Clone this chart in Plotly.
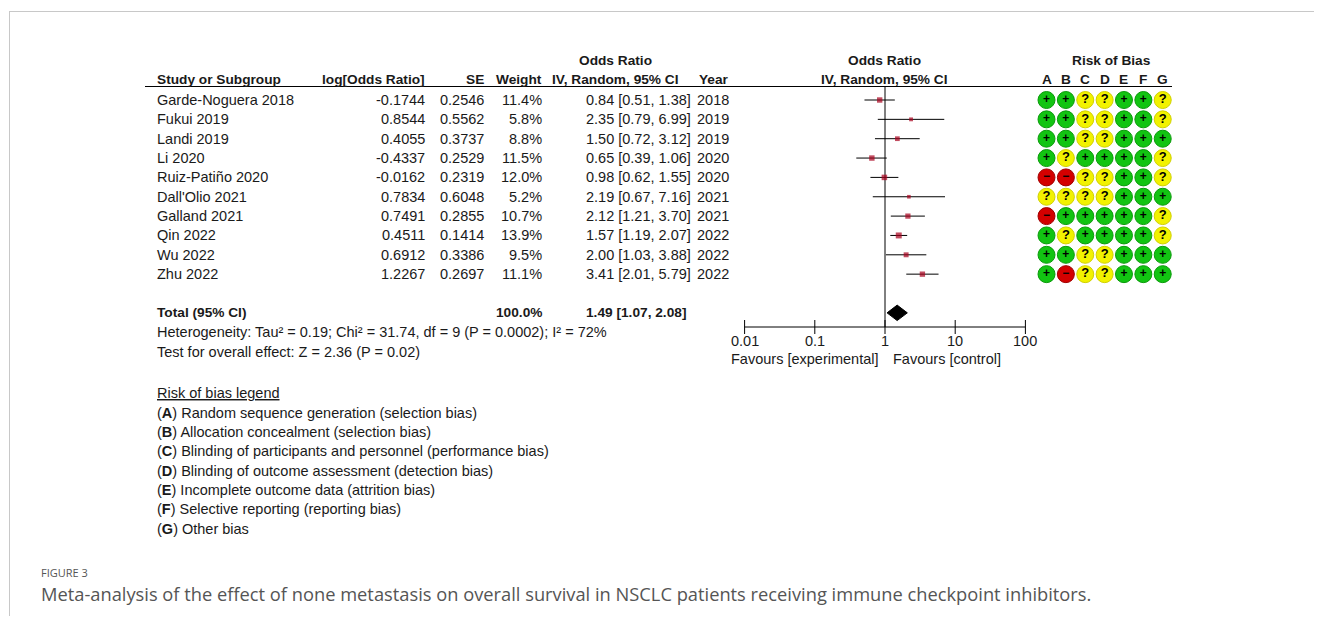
import math
import plotly.graph_objects as go

# page body has an 8px margin: reference pixel (x, y) -> figure pixel (x-8, y-8)
OFF = 8
FW, FH = 1314, 608

# ---------------- data ----------------
studies = ["Garde-Noguera 2018", "Fukui 2019", "Landi 2019", "Li 2020", "Ruiz-Patiño 2020",
           "Dall'Olio 2021", "Galland 2021", "Qin 2022", "Wu 2022", "Zhu 2022"]
log_or = ["-0.1744", "0.8544", "0.4055", "-0.4337", "-0.0162",
          "0.7834", "0.7491", "0.4511", "0.6912", "1.2267"]
se = ["0.2546", "0.5562", "0.3737", "0.2529", "0.2319",
      "0.6048", "0.2855", "0.1414", "0.3386", "0.2697"]
weight = [11.4, 5.8, 8.8, 11.5, 12.0, 5.2, 10.7, 13.9, 9.5, 11.1]
or_est = [0.84, 2.35, 1.50, 0.65, 0.98, 2.19, 2.12, 1.57, 2.00, 3.41]
ci_low = [0.51, 0.79, 0.72, 0.39, 0.62, 0.67, 1.21, 1.19, 1.03, 2.01]
ci_high = [1.38, 6.99, 3.12, 1.06, 1.55, 7.16, 3.70, 2.07, 3.88, 5.79]
years = [2018, 2019, 2019, 2020, 2020, 2021, 2021, 2022, 2022, 2022]

total_or = 1.49
total_low = 1.07
total_high = 2.08
total_weight = 100.0

rob_domains = ["A", "B", "C", "D", "E", "F", "G"]
rob = ["++??++?", "++??++?", "++??+++", "+?++++?", "--??++?",
       "????+++", "-+++++?", "+?++++?", "++??+++", "+-??+++"]

tick_vals = [0.01, 0.1, 1, 10, 100]
tick_labels = ["0.01", "0.1", "1", "10", "100"]

legend_items = [("A", "Random sequence generation (selection bias)"),
                ("B", "Allocation concealment (selection bias)"),
                ("C", "Blinding of participants and personnel (performance bias)"),
                ("D", "Blinding of outcome assessment (detection bias)"),
                ("E", "Incomplete outcome data (attrition bias)"),
                ("F", "Selective reporting (reporting bias)"),
                ("G", "Other bias")]

heterogeneity = "Heterogeneity: Tau² = 0.19; Chi² = 31.74, df = 9 (P = 0.0002); I² = 72%"
overall = "Test for overall effect: Z = 2.36 (P = 0.02)"
caption_label = "FIGURE 3"
caption = ("Meta-analysis of the effect of none metastasis on overall survival in NSCLC "
           "patients receiving immune checkpoint inhibitors.")

# ---------------- layout geometry (reference-pixel units) ----------------
ROW0_PX, PITCH = 100.0, 19.35          # row -> pixel mapping
ONE_PX, DEC_PX = 885.0, 70.2           # forest log axis
COL0_PX, COL_PITCH = 1046.5, 19.37     # risk-of-bias columns

def row_of(py):
    return (py - ROW0_PX) / PITCH

def px(x):
    return (x - OFF) / FW

def py_paper(y):
    return 1 - (y - OFF) / FH

FONT = "Liberation Sans, Arial, sans-serif"
TXT = "#1a1a1a"
REG = 14.5
BLD = 13.7

fig = go.Figure()

# ---- forest plot: CI lines ----
cx, cy = [], []
for i in range(len(studies)):
    cx += [ci_low[i], ci_high[i], None]
    cy += [i, i, None]
fig.add_trace(go.Scatter(x=cx, y=cy, mode="lines", line=dict(color="black", width=1),
                         hoverinfo="skip"))

# vertical line of no effect
axis_row = row_of(327)
fig.add_trace(go.Scatter(x=[1, 1], y=[row_of(87), axis_row], mode="lines",
                         line=dict(color="black", width=1), hoverinfo="skip"))

# squares
fig.add_trace(go.Scatter(x=or_est, y=list(range(len(studies))), mode="markers",
                         marker=dict(symbol="square", color="#a8001c",
                                     size=[1.6 * w ** 0.5 for w in weight],
                                     line=dict(width=0)),
                         hoverinfo="skip"))

# diamond
trow = 11
fig.add_trace(go.Scatter(x=[total_low, total_or, total_high, total_or, total_low],
                         y=[trow, trow - 0.4, trow, trow + 0.4, trow],
                         mode="lines", fill="toself", fillcolor="black",
                         line=dict(color="black", width=1), hoverinfo="skip"))

# axis line + ticks
fig.add_trace(go.Scatter(x=[tick_vals[0], tick_vals[-1]], y=[axis_row, axis_row], mode="lines",
                         line=dict(color="black", width=1), hoverinfo="skip"))
fig.add_trace(go.Scatter(x=tick_vals, y=[axis_row] * len(tick_vals), mode="markers",
                         marker=dict(symbol="line-ns", size=10,
                                     line=dict(color="black", width=1)),
                         hoverinfo="skip"))

# ---- risk of bias dots ----
styles = {
    "+": ("#12c412", "#0a9a0a", "+", 12),
    "?": ("#f2f200", "#d0d000", "?", 13),
    "-": ("#d40000", "#a00000", "−", 12),
}
for key, (fill, edge, ch, fs) in styles.items():
    xs, ys = [], []
    for i, r in enumerate(rob):
        for j, c in enumerate(r):
            if c == key:
                xs.append(j)
                ys.append(i)
    fig.add_trace(go.Scatter(x=xs, y=ys, xaxis="x2", yaxis="y", mode="markers+text",
                             text=["<b>%s</b>" % ch] * len(xs), textposition="middle center",
                             textfont=dict(family=FONT, size=fs, color="black"),
                             marker=dict(symbol="circle", size=17, color=fill,
                                         line=dict(color=edge, width=1)),
                             hoverinfo="skip"))

# ---------------- annotations ----------------
ann = []

def text(t, x, row, anchor="left", size=REG, bold=False, xref="paper", color=TXT, family=FONT):
    if xref == "paper":
        xv = px(x)
    elif xref == "x":
        xv = math.log10(x)
    else:
        xv = x
    ann.append(dict(text=("<b>%s</b>" % t) if bold else t,
                    x=xv, xref=xref,
                    y=row, yref="y", xanchor=anchor, yanchor="middle",
                    showarrow=False, font=dict(family=family, size=size, color=color)))

# headers
hr = row_of(79.5)
hr2 = row_of(60.5)
text("Study or Subgroup", 155, hr, bold=True, size=BLD)
text("log[Odds Ratio]", 427, hr, "right", bold=True, size=BLD)
text("SE", 486, hr, "right", bold=True, size=BLD)
text("Weight", 544, hr, "right", bold=True, size=BLD)
text("Odds Ratio", 615, hr2, "center", bold=True, size=BLD)
text("IV, Random, 95% CI", 615, hr, "center", bold=True, size=BLD)
text("Year", 731, hr, "right", bold=True, size=BLD)
text("Odds Ratio", 884, hr2, "center", bold=True, size=BLD)
text("IV, Random, 95% CI", 884, hr, "center", bold=True, size=BLD)
text("Risk of Bias", 1111, hr2, "center", bold=True, size=BLD)
for j, d in enumerate(rob_domains):
    text(d, j, hr, "center", bold=True, size=BLD, xref="x2")

# rows
for i, s in enumerate(studies):
    text(s, 155, i, "left")
    text(log_or[i], 427, i, "right")
    text(se[i], 486, i, "right")
    text("%.1f%%" % weight[i], 544, i, "right")
    text("%.2f [%.2f, %.2f]" % (or_est[i], ci_low[i], ci_high[i]), 693, i, "right")
    text(str(years[i]), 731, i, "right")

# total
text("Total (95% CI)", 155, trow, bold=True, size=BLD)
text("%.1f%%" % total_weight, 544, trow, "right", bold=True, size=BLD)
text("%.2f [%.2f, %.2f]" % (total_or, total_low, total_high), 688, trow, "right",
     bold=True, size=BLD)
text(heterogeneity, 155, row_of(332), "left")
text(overall, 155, row_of(351.5), "left")

# forest tick labels and favours
for v, l in zip(tick_vals, tick_labels):
    text(l, v, row_of(341), "center", xref="x")
text("Favours [experimental]", 880, row_of(359), "right")
text("Favours [control]", 891, row_of(359), "left")

# risk of bias legend
text("<u>Risk of bias legend</u>", 155, row_of(393))
for k, (letter, desc) in enumerate(legend_items):
    text("(<b>%s</b>) %s" % (letter, desc), 155, row_of(412.5 + 19.35 * k))

# caption
text(caption_label, 39, row_of(572), "left", size=11, color="#555555",
     family="Open Sans, Noto Sans, sans-serif")
text(caption, 39, row_of(593.5), "left", size=18.3, color="#555555",
     family="Open Sans, Noto Sans, sans-serif")

# ---------------- shapes (frame, header rule) ----------------
shapes = [
    dict(type="line", xref="paper", yref="y", x0=px(145), x1=px(1172),
         y0=row_of(86.5), y1=row_of(86.5), line=dict(color="black", width=1)),
    dict(type="line", xref="paper", yref="paper", x0=px(9), x1=1,
         y0=py_paper(11.5), y1=py_paper(11.5), line=dict(color="#c8c8c8", width=1)),
    dict(type="line", xref="paper", yref="paper", x0=px(9.5), x1=px(9.5),
         y0=0, y1=py_paper(11.5), line=dict(color="#c8c8c8", width=1)),
]

fig.update_layout(
    width=FW, height=FH, margin=dict(l=0, r=0, t=0, b=0),
    paper_bgcolor="white", plot_bgcolor="white", showlegend=False,
    xaxis=dict(type="log", domain=[0, 1],
               range=[(OFF - ONE_PX) / DEC_PX, (OFF + FW - ONE_PX) / DEC_PX], visible=False),
    xaxis2=dict(domain=[0, 1], overlaying="x",
                range=[(OFF - COL0_PX) / COL_PITCH, (OFF + FW - COL0_PX) / COL_PITCH],
                visible=False),
    yaxis=dict(domain=[0, 1], range=[row_of(OFF + FH), row_of(OFF)], visible=False),
    annotations=ann, shapes=shapes,
)

fig.write_html("out.html", config={"displayModeBar": False})
